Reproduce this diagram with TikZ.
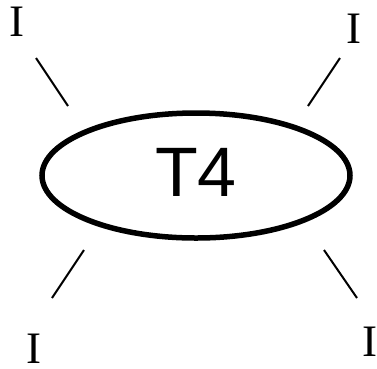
\documentclass[tikz,border=0pt]{standalone}
\usepackage{fontspec}
\setmainfont{Liberation Serif}
\newfontfamily\tilefont{Liberation Sans}
\usetikzlibrary{shapes.geometric}

\begin{document}
\begin{tikzpicture}[
        x=1pt, y=-1pt,
        every node/.style={inner sep=0pt, outer sep=0pt},
        tile/.style={draw, ellipse, line width=5.5pt, minimum width=308pt, minimum height=125pt,
            font=\tilefont\fontsize{70}{70}\selectfont, text height=50pt, text depth=9pt},
        leg/.style={font=\fontsize{45}{45}\selectfont},
        stub/.style={line width=2pt}
    ]
        \useasboundingbox (0,0) rectangle (377,368);

        \node[tile] (t4) at (196,175.5) {T4};

        % external legs
        \node[leg] (nw) at (17,22) {I};
        \node[leg] (ne) at (354,29) {I};
        \node[leg] (sw) at (34,349) {I};
        \node[leg] (se) at (369.5,342) {I};

        \coordinate (nw1) at (36,58);   \coordinate (nw2) at (68,106);
        \coordinate (ne1) at (340,58);  \coordinate (ne2) at (308,106);
        \coordinate (sw1) at (84,250);  \coordinate (sw2) at (52,298);
        \coordinate (se1) at (324,250); \coordinate (se2) at (357,298);

        \draw[stub] (nw1) -- (nw2);
        \draw[stub] (ne1) -- (ne2);
        \draw[stub] (sw1) -- (sw2);
        \draw[stub] (se1) -- (se2);
\end{tikzpicture}
\end{document}
